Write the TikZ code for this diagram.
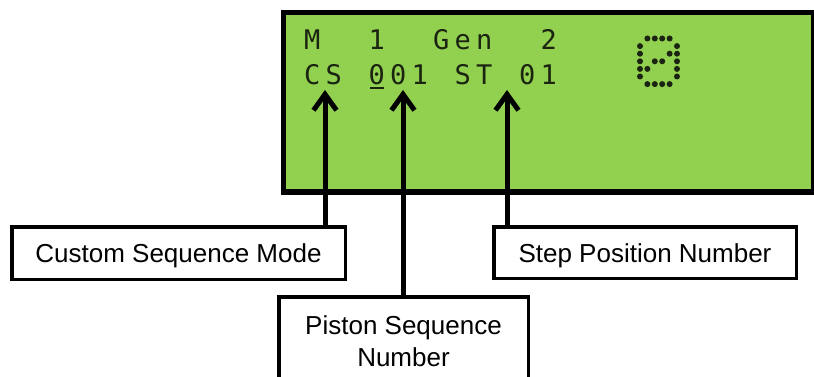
\documentclass[tikz,border=0pt]{standalone}
\usepackage{fontspec}
\setmainfont{Liberation Sans}
\newfontfamily\lcdfont{DejaVu Sans Mono}
\usetikzlibrary{arrows.meta}
\definecolor{lcdgreen}{HTML}{92D050}
\definecolor{lcdink}{HTML}{1A2410}
\makeatletter
\newcommand\lcdrow[1]{\@tfor\lcd@c:=#1\do{\makebox[21.5pt][c]{\lcd@c}}}
\makeatother
\tikzset{
  lcdbox/.style={draw=black, line width=5.5pt, fill=lcdgreen, inner sep=0pt, anchor=north west},
  lcdtext/.style={text=lcdink, inner sep=0pt, anchor=base west, font=\lcdfont\fontsize{27}{30}\selectfont},
  labelbox/.style={draw=black, line width=3.5pt, fill=white, inner sep=0pt,
    font=\fontsize{26}{32}\selectfont, text height=19pt, text depth=0pt},
  labeltext/.style={inner sep=0pt, anchor=base, font=\fontsize{26}{32}\selectfont},
  pointer/.style={draw=black, line width=5pt, -{Straight Barb[length=16pt,width=23pt]}},
  lcddot/.style={fill=lcdink}
}
\begin{document}
\begin{tikzpicture}[x=1pt,y=-1pt]
\useasboundingbox (0,0) rectangle (814,377);
% LCD panel
\node[lcdbox, minimum width=530.5pt, minimum height=179.5pt] (lcd) at (280.75,9.75) {};
\node[lcdtext] (row1) at (301.25,50) {\lcdrow{M~~1~~Gen~~2}};
\node[lcdtext] (row2) at (301.25,85) {\lcdrow{CS~001~ST~01}};
\draw[lcdink, line width=1.8pt] (370,88) -- (384,88);
% dot matrix symbol
\foreach \c/\r in {1/0,2/0,3/0,4/0, 0/1,5/1, 0/2,4/2,5/2, 0/3,2/3,3/3,5/3, 0/4,1/4,5/4, 0/5,5/5, 1/6,2/6,3/6,4/6}
  \fill[lcddot] ({640+7.4*\c},{38.5+7.6*\r}) circle[radius=3pt];
% label boxes
\node[labelbox, minimum width=333.5pt, minimum height=52.5pt] (custom) at (178.5,253) {Custom Sequence Mode};
\node[labelbox, minimum width=302.5pt, minimum height=51.5pt] (step) at (645,252.5) {Step Position Number};
\node[labelbox, minimum width=249.5pt, minimum height=120pt] (piston) at (403.5,356.75) {};
\node[labeltext] (piston1) at (403.5,334) {Piston Sequence};
\node[labeltext] (piston2) at (403.5,366) {Number};
% pointers
\coordinate (tipcs) at (325,90);
\coordinate (tippsn) at (403,90);
\coordinate (tipst) at (507,90);
\draw[pointer] (custom.north -| tipcs) -- (tipcs);
\draw[pointer] (piston.north -| tippsn) -- (tippsn);
\draw[pointer] (step.north -| tipst) -- (tipst);
\end{tikzpicture}
\end{document}
